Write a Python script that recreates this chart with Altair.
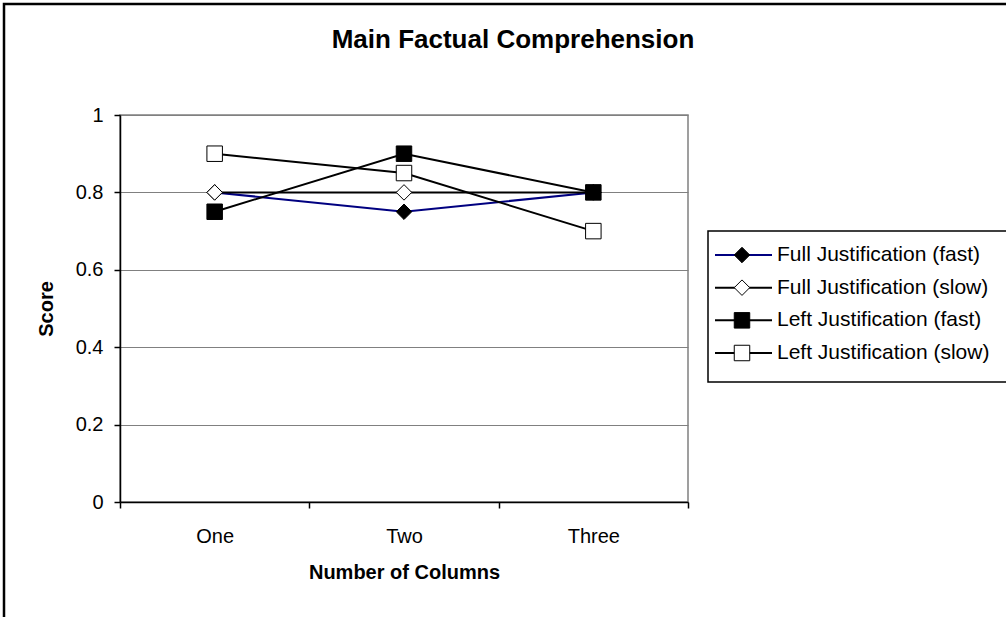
import altair as alt
import pandas as pd

# Categories and series
columns = ["One", "Two", "Three"]
series = [
    "Full Justification (fast)",
    "Full Justification (slow)",
    "Left Justification (fast)",
    "Left Justification (slow)",
]

# Mean comprehension score per series, one value per column count
full_fast = [0.80, 0.75, 0.80]
full_slow = [0.80, 0.80, 0.80]
left_fast = [0.75, 0.90, 0.80]
left_slow = [0.90, 0.85, 0.70]

# Marker and line styling per series (rhombus drawn as a rotated square)
RHOMBUS = "M0,-1L1,0L0,1L-1,0Z"
line_colors = ["#000080", "#000000", "#000000", "#000000"]
marker_fills = ["#000000", "#ffffff", "#000000", "#ffffff"]
marker_shapes = [RHOMBUS, RHOMBUS, "square", "square"]
marker_sizes = [240, 240, 130, 130]

chart_title = "Main Factual Comprehension"
FONT = "Liberation Sans"

rows = []
for name, vals in zip(series, [full_fast, full_slow, left_fast, left_slow]):
    for col, v in zip(columns, vals):
        rows.append({"columns": col, "series": name, "score": v})
df = pd.DataFrame(rows)
legend_df = pd.DataFrame({"series": series})

stroke_scale = alt.Scale(domain=series, range=line_colors)
fill_scale = alt.Scale(domain=series, range=marker_fills)
shape_scale = alt.Scale(domain=series, range=marker_shapes)
size_scale = alt.Scale(domain=series, range=marker_sizes)

x_enc = alt.X(
    "columns:N",
    sort=columns,
    scale=alt.Scale(type="band", paddingInner=0, paddingOuter=0),
    axis=alt.Axis(
        title="Number of Columns",
        labelAngle=0,
        tickBand="extent",
        grid=False,
        tickSize=6,
        labelPadding=18,
        titlePadding=16,
    ),
)
y_enc = alt.Y(
    "score:Q",
    scale=alt.Scale(domain=[0, 1], nice=False, zero=True),
    axis=alt.Axis(
        title="Score",
        values=[0, 0.2, 0.4, 0.6, 0.8, 1.0],
        format="~g",
        tickSize=6,
        labelPadding=11,
        titlePadding=19,
        grid=True,
    ),
)

lines = alt.Chart(df).mark_line(strokeWidth=2).encode(
    x=x_enc,
    y=y_enc,
    stroke=alt.Stroke("series:N", scale=stroke_scale, legend=None),
    detail="series:N",
)

points = alt.Chart(df).mark_point(filled=True, strokeWidth=1, opacity=1).encode(
    x=x_enc,
    y=y_enc,
    shape=alt.Shape("series:N", scale=shape_scale, legend=None),
    fill=alt.Fill("series:N", scale=fill_scale, legend=None),
    size=alt.Size("series:N", scale=size_scale, legend=None),
    stroke=alt.value("#000000"),
)

plot = alt.layer(lines, points)

# Legend drawn as its own layer, rows placed by a point scale
leg_y = alt.Y(
    "series:N",
    sort=series,
    scale=alt.Scale(type="point", range=[140, 238], padding=0),
    axis=None,
)

legend_box = alt.Chart(alt.Data(values=[{}])).mark_rect(
    fill="#ffffff", stroke="#000000", strokeWidth=1.5
).encode(
    x=alt.value(588), x2=alt.value(1000), y=alt.value(116), y2=alt.value(267)
)

legend_lines = alt.Chart(legend_df).mark_rule(strokeWidth=2).encode(
    x=alt.value(595),
    x2=alt.value(652),
    y=leg_y,
    stroke=alt.Stroke("series:N", scale=stroke_scale, legend=None),
)

legend_marks = alt.Chart(legend_df).mark_point(filled=True, strokeWidth=1, opacity=1).encode(
    x=alt.value(622),
    y=leg_y,
    shape=alt.Shape("series:N", scale=shape_scale, legend=None),
    fill=alt.Fill("series:N", scale=fill_scale, legend=None),
    size=alt.Size("series:N", scale=size_scale, legend=None),
    stroke=alt.value("#000000"),
)

legend_text = alt.Chart(legend_df).mark_text(
    align="left", baseline="middle", font=FONT, fontSize=21, color="#000000"
).encode(
    x=alt.value(657),
    y=leg_y,
    text="series:N",
)

legend_layer = alt.layer(legend_box, legend_lines, legend_marks, legend_text)

# Chart title, centred on the chart area
title_mark = alt.Chart(alt.Data(values=[{"t": chart_title}])).mark_text(
    align="center", baseline="middle", font=FONT, fontSize=26, fontWeight="bold", color="#000000"
).encode(
    x=alt.value(393), y=alt.value(-75), text="t:N"
)

# Chart-area frame around everything
frame = alt.Chart(alt.Data(values=[{}])).mark_rect(
    fill="transparent", stroke="#000000", strokeWidth=2.5
).encode(
    x=alt.value(-116), x2=alt.value(2000), y=alt.value(-111), y2=alt.value(2000)
)

chart = (
    alt.layer(plot, legend_layer, title_mark, frame)
    .resolve_scale(y="independent")
    .properties(
        width=568,
        height=387,
        padding={"left": 120, "top": 115, "right": 318, "bottom": 115},
        autosize=alt.AutoSizeParams(type="none"),
        background="#ffffff",
    )
    .configure_view(stroke="#808080", strokeWidth=1.5)
    .configure_axis(
        labelFont=FONT,
        labelFontSize=20,
        labelColor="#000000",
        titleFont=FONT,
        titleFontSize=20,
        titleFontWeight="bold",
        titleColor="#000000",
        domainColor="#000000",
        domainWidth=1.5,
        tickColor="#000000",
        tickWidth=1.5,
        gridColor="#808080",
        gridWidth=1,
        gridOpacity=1,
    )
)

chart.save("out.html", embed_options={"renderer": "svg", "actions": False})
